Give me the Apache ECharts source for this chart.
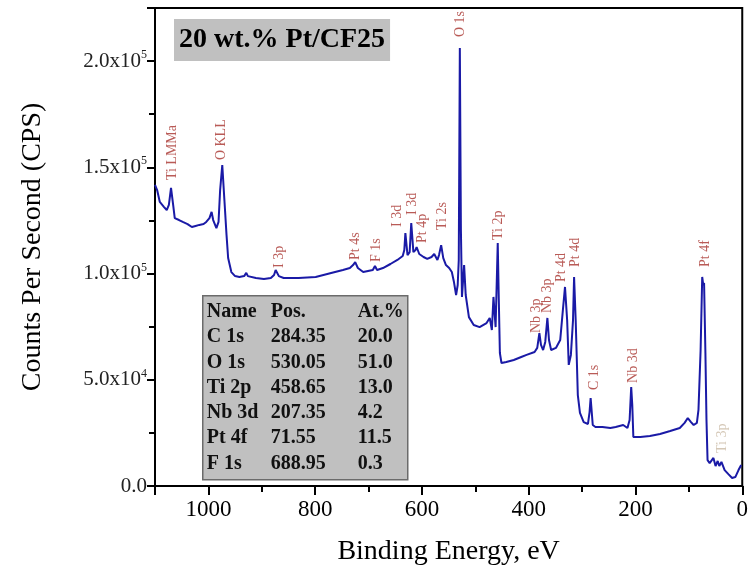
<!DOCTYPE html>
<html>
<head>
<meta charset="utf-8">
<script src="https://cdn.jsdelivr.net/npm/echarts@6/dist/echarts.min.js"></script>
<style>
  html, body { margin: 0; padding: 0; background: #fff; }
  #chart { width: 751px; height: 576px; }
</style>
</head>
<body>
<div id="chart"></div>
<script>
// XPS survey spectrum: binding energy (eV) and intensity (counts per second)
const energy = [
  1100, 1096, 1091, 1083, 1078, 1074, 1070, 1066, 1063, 1055, 1048, 1039, 1031, 1024, 1017, 1009,
  1004, 998, 994, 991, 985, 981, 978, 974, 970, 966, 963, 957, 950, 942, 933, 929,
  926, 911, 896, 883, 877, 874, 868, 859, 831, 799, 770, 748, 735, 729, 725, 720,
  710, 701, 692, 688, 684, 673, 659, 646, 636, 633, 631, 627, 623, 620, 616, 612,
  610, 605, 597, 590, 582, 577, 571, 568, 564, 560, 555, 549, 544, 540, 536, 533,
  531, 529, 527, 525, 521, 518, 512, 503, 492, 479, 473, 469, 466, 462, 458, 456,
  454, 451, 442, 428, 414, 404, 389, 384, 380, 377, 373, 369, 365, 362, 358, 349,
  341, 336, 332, 328, 325, 321, 317, 315, 312, 308, 304, 297, 289, 286, 284, 280,
  275, 262, 247, 237, 223, 215, 211, 208, 206, 204, 191, 173, 154, 135, 117, 108,
  102, 96, 91, 85, 82, 78, 75, 73, 71.5, 69, 67, 65, 61, 58, 54, 50,
  46, 43, 39, 33, 26, 19, 13, 7, 2
];
const counts = [
  141700, 139300, 133700, 131300, 129900, 132300, 140300, 132300, 126100, 125200, 124300, 123300, 121900, 122400, 122900, 123300,
  124300, 126100, 129000, 125200, 121400, 124300, 139300, 151100, 134600, 118100, 107300, 100700, 98800, 98400, 98800, 100300,
  98800, 97900, 97400, 97900, 99300, 101700, 98800, 97900, 97900, 98400, 100300, 101700, 102600, 104000, 105400, 102600,
  100700, 101200, 101700, 103600, 101700, 102600, 104500, 106400, 108300, 111100, 119100, 108700, 110100, 123800, 110100, 111100,
  112500, 109200, 107800, 106900, 107800, 109200, 106400, 108700, 113400, 107300, 104000, 102600, 100700, 96000, 89900, 94600,
  106400, 206200, 120500, 89000, 104000, 89900, 79500, 75800, 74800, 76700, 79100, 73400, 89000, 74800, 114400, 87600,
  62600, 57900, 58400, 59300, 60700, 61700, 63100, 65000, 72000, 66400, 64000, 67800, 79100, 68700, 64000, 65000,
  68700, 82800, 93700, 78100, 57000, 61700, 78100, 98400, 78100, 42800, 34400, 30100, 29200, 34800, 41400, 28700,
  27800, 27800, 27300, 27800, 28700, 27300, 31100, 46600, 38100, 23100, 23100, 23500, 24500, 25900, 27300, 29700,
  32000, 30100, 28700, 29700, 35800, 64000, 98400, 94600, 95600, 62600, 31100, 12200, 10800, 11300, 13200, 9400,
  11800, 9400, 11300, 7500, 5600, 3800, 4200, 7500, 9900
];

// Peak assignments: label text, energy and the intensity where the label starts
const peakNames = ['Ti LMMa', 'O KLL', 'I 3p', 'Pt 4s', 'F 1s', 'I 3d', 'I 3d', 'Pt 4p', 'Ti 2s', 'O 1s',
  'Ti 2p', 'Nb 3p', 'Nb 3p', 'Pt 4d', 'Pt 4d', 'C 1s', 'Nb 3d', 'Pt 4f', 'Ti 3p'];
const peakEnergy = [1067, 976, 868, 725, 686, 646, 618, 599, 562, 529,
  456, 386, 365, 338, 312, 278, 204, 70, 37];
const peakLabelBase = [144000, 153400, 102600, 106400, 105400, 121900, 127600, 114400, 120500, 211300,
  115800, 72000, 81400, 96000, 103100, 45200, 48500, 103100, 15500];

// Quantification table
const tableHeader = ['Name', 'Pos.', 'At.%'];
const tableNames = ['C 1s', 'O 1s', 'Ti 2p', 'Nb 3d', 'Pt 4f', 'F 1s'];
const tablePos = ['284.35', '530.05', '458.65', '207.35', '71.55', '688.95'];
const tableAt = ['20.0', '51.0', '13.0', '4.2', '11.5', '0.3'];

// Axis ticks
const xTicks = { min: 0, max: 1100, interval: 200 };
const yTicks = { min: 0, max: 225000, interval: 50000 };

const serif = '"Liberation Serif", "Times New Roman", serif';
const chart = echarts.init(document.getElementById('chart'), null, { renderer: 'canvas' });

const lineData = energy.map((e, i) => [e, counts[i]]);
const peakData = peakNames.map((n, i) => ({
  value: [peakEnergy[i], peakLabelBase[i]],
  name: n,
  label: n === 'Ti 3p' ? { color: '#c9b9a4' } : undefined
}));

// Build the table as graphic elements
const tableLeft = 202, tableTop = 295, tableW = 205, tableH = 184;
const colX = [4, 68, 155];
const rowH = 25.3, firstRow = 16;
const tableChildren = [{
  type: 'rect',
  shape: { x: 0, y: 0, width: tableW, height: tableH },
  style: { fill: '#c0c0c0', stroke: '#6b6b6b', lineWidth: 1.5 }
}];
const rows = [tableHeader].concat(tableNames.map((n, i) => [n, tablePos[i], tableAt[i]]));
rows.forEach((r, ri) => {
  r.forEach((t, ci) => {
    tableChildren.push({
      type: 'text',
      x: colX[ci],
      y: firstRow + ri * rowH,
      style: {
        text: t, fill: '#111', font: 'bold 20px ' + serif,
        textAlign: 'left', textVerticalAlign: 'middle'
      }
    });
  });
});

function yLabel(v) {
  if (v === 0) return '{m|0.0}';
  const e = Math.floor(Math.log10(v) + 1e-9);
  const m = (v / Math.pow(10, e)).toFixed(1);
  return '{m|' + m + 'x10}{e|' + e + '}';
}

chart.setOption({
  animation: false,
  backgroundColor: '#fff',
  title: {
    text: '20 wt.% Pt/CF25',
    left: 174, top: 19,
    backgroundColor: '#c0c0c0',
    padding: [7, 5, 7, 5],
    textStyle: { fontFamily: serif, fontWeight: 'bold', fontSize: 28, color: '#000' }
  },
  grid: {
    left: 155, right: 3, top: 8, bottom: 90,
    show: true, borderColor: '#000', borderWidth: 2, backgroundColor: 'transparent'
  },
  xAxis: {
    type: 'value',
    inverse: true,
    min: xTicks.min, max: xTicks.max, interval: xTicks.interval,
    name: 'Binding Energy, eV',
    nameLocation: 'middle',
    nameGap: 52,
    nameTextStyle: { fontFamily: serif, fontSize: 28, color: '#000' },
    axisLine: { onZero: false, lineStyle: { color: '#000', width: 2 } },
    axisTick: { show: true, inside: false, length: 9, lineStyle: { color: '#000', width: 2 } },
    minorTick: { show: true, splitNumber: 2, length: 6, lineStyle: { color: '#000', width: 2 } },
    splitLine: { show: false },
    axisLabel: {
      fontFamily: serif, fontSize: 23, color: '#000', margin: 12, showMaxLabel: false,
      formatter: v => String(v)
    }
  },
  yAxis: {
    type: 'value',
    position: 'left',
    min: yTicks.min, max: yTicks.max, interval: yTicks.interval,
    name: 'Counts Per Second (CPS)',
    nameLocation: 'middle',
    nameGap: 108,
    nameTextStyle: { fontFamily: serif, fontSize: 28, color: '#000' },
    axisLine: { show: true, onZero: false, lineStyle: { color: '#000', width: 2 } },
    axisTick: { show: true, inside: false, length: 8, lineStyle: { color: '#000', width: 2 } },
    minorTick: { show: true, splitNumber: 2, length: 6, lineStyle: { color: '#000', width: 2 } },
    splitLine: { show: false },
    axisLabel: {
      margin: 8, showMaxLabel: false,
      formatter: yLabel,
      rich: {
        m: { fontFamily: serif, fontSize: 21, color: '#222', lineHeight: 24 },
        e: { fontFamily: serif, fontSize: 12, color: '#222', verticalAlign: 'top', lineHeight: 24, padding: [0, 0, 10, 0] }
      }
    }
  },
  series: [
    {
      type: 'line',
      data: lineData,
      showSymbol: false,
      smooth: false,
      lineStyle: { color: '#1a1aa6', width: 2 },
      silent: true
    },
    {
      type: 'scatter',
      data: peakData,
      symbolSize: 0,
      silent: true,
      clip: false,
      label: {
        show: true,
        formatter: p => p.name,
        position: [0, 0],
        rotate: 90,
        align: 'left',
        verticalAlign: 'middle',
        fontFamily: serif,
        fontSize: 14,
        color: '#a8322d'
      }
    }
  ],
  graphic: [{
    type: 'group',
    left: tableLeft,
    top: tableTop,
    children: tableChildren
  }]
});
</script>
</body>
</html>
